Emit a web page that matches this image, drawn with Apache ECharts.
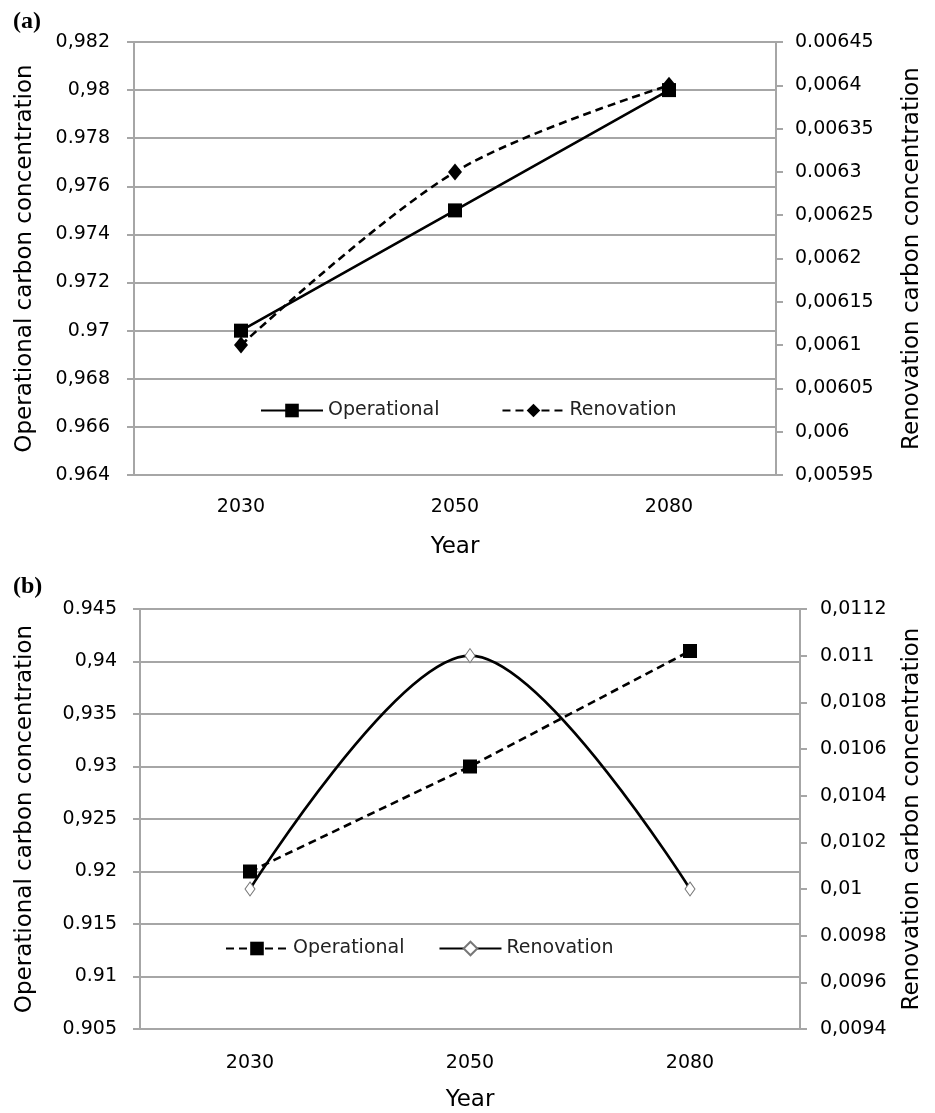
<!DOCTYPE html>
<html>
<head>
<meta charset="utf-8">
<script src="https://cdn.jsdelivr.net/npm/echarts@6/dist/echarts.min.js"></script>
<style>
  html, body { margin: 0; padding: 0; background: #fff; }
  #chart { width: 935px; height: 1113px; }
</style>
</head>
<body>
<div id="chart"></div>
<script>
// Years on the horizontal axis
const categories = ['2030', '2050', '2080'];

// Panel (a) values
const operationalA = [0.970, 0.975, 0.980];
const renovationA = [0.0061, 0.0063, 0.0064];

// Panel (b) values
const operationalB = [0.920, 0.930, 0.941];
const renovationB = [0.0100, 0.0110, 0.0100];

// Tick labels, bottom to top
const leftTicksA = ['0.964', '0.966', '0,968', '0.97', '0.972', '0.974', '0,976', '0.978', '0,98', '0,982'];
const rightTicksA = ['0,00595', '0,006', '0,00605', '0,0061', '0,00615', '0,0062', '0,00625', '0.0063', '0,00635', '0,0064', '0.00645'];
const leftTicksB = ['0.905', '0.91', '0.915', '0.92', '0,925', '0.93', '0,935', '0,94', '0.945'];
const rightTicksB = ['0,0094', '0,0096', '0.0098', '0,01', '0,0102', '0,0104', '0.0106', '0,0108', '0.011', '0,0112'];

const FONT = '"DejaVu Sans", Verdana, sans-serif';
const GRID_GRAY = '#a6a6a6';
const SMOOTH = 0.33;

function tickFormatter(labels, min, step) {
  return function (v) {
    const i = Math.round((v - min) / step);
    return labels[i] !== undefined ? labels[i] : '';
  };
}

function valueAxis(gridIndex, position, min, max, step, labels, name, nameGap, labelMargin, showSplit) {
  return {
    type: 'value',
    gridIndex: gridIndex,
    position: position,
    min: min,
    max: max,
    interval: step,
    axisLine: { show: true, lineStyle: { color: GRID_GRAY, width: 2 } },
    axisTick: { show: true, length: 7, lineStyle: { color: GRID_GRAY, width: 2 } },
    splitLine: { show: showSplit, lineStyle: { color: GRID_GRAY, width: 2 } },
    axisLabel: {
      formatter: tickFormatter(labels, min, step),
      fontFamily: FONT, fontSize: 19, color: '#000', margin: labelMargin
    },
    name: name,
    nameLocation: 'middle',
    nameRotate: 90,
    nameGap: nameGap,
    nameTextStyle: { fontFamily: FONT, fontSize: 23, color: '#000' }
  };
}

function categoryAxis(gridIndex, labelMargin, nameGap) {
  return {
    type: 'category',
    gridIndex: gridIndex,
    data: categories,
    boundaryGap: true,
    axisLine: { lineStyle: { color: GRID_GRAY, width: 2 } },
    axisTick: { length: 7, lineStyle: { color: GRID_GRAY, width: 2 } },
    axisLabel: { fontFamily: FONT, fontSize: 19, color: '#000', margin: labelMargin },
    name: 'Year',
    nameLocation: 'middle',
    nameGap: nameGap,
    nameTextStyle: { fontFamily: FONT, fontSize: 23, color: '#000' }
  };
}

const solidBlack = { color: '#000', width: 2.6, type: 'solid' };
const dashedBlack = { color: '#000', width: 2.6, type: [8, 5] };

const option = {
  animation: false,
  backgroundColor: '#fff',
  graphic: [
    { type: 'text', left: 13, top: 10, style: { text: '(a)', font: 'bold 24px "Liberation Serif", serif', fill: '#000' } },
    { type: 'text', left: 13, top: 575, style: { text: '(b)', font: 'bold 24px "Liberation Serif", serif', fill: '#000' } }
  ],
  grid: [
    { left: 134, right: 935 - 776, top: 42, height: 433 },
    { left: 140, right: 935 - 800, top: 609, height: 420 }
  ],
  legend: [
    {
      left: 260, top: 401, padding: 0, itemGap: 62, itemWidth: 62, itemHeight: 17,
      textStyle: { fontFamily: FONT, fontSize: 19, color: '#222' },
      data: ['Operational a', 'Renovation a'],
      formatter: n => n.split(' ')[0]
    },
    {
      left: 225, top: 939, padding: 0, itemGap: 34, itemWidth: 62, itemHeight: 17,
      textStyle: { fontFamily: FONT, fontSize: 19, color: '#222' },
      data: ['Operational b', 'Renovation b'],
      formatter: n => n.split(' ')[0]
    }
  ],
  xAxis: [
    categoryAxis(0, 23, 61),
    categoryAxis(1, 25, 60)
  ],
  yAxis: [
    valueAxis(0, 'left', 0.964, 0.982, 0.002, leftTicksA, 'Operational carbon concentration', 97, 24, true),
    valueAxis(0, 'right', 0.00595, 0.00645, 0.00005, rightTicksA, 'Renovation carbon concentration', 125, 19, false),
    valueAxis(1, 'left', 0.905, 0.945, 0.005, leftTicksB, 'Operational carbon concentration', 103, 23, true),
    valueAxis(1, 'right', 0.0094, 0.0112, 0.0002, rightTicksB, 'Renovation carbon concentration', 101, 20, false)
  ],
  series: [
    {
      name: 'Operational a', type: 'line', xAxisIndex: 0, yAxisIndex: 0,
      data: operationalA, symbol: 'rect', symbolSize: 14,
      lineStyle: solidBlack, itemStyle: { color: '#000' }
    },
    {
      name: 'Renovation a', type: 'line', xAxisIndex: 0, yAxisIndex: 1,
      data: renovationA, smooth: SMOOTH, symbol: 'diamond', symbolSize: [14, 17],
      lineStyle: dashedBlack, itemStyle: { color: '#000' }
    },
    {
      name: 'Operational b', type: 'line', xAxisIndex: 1, yAxisIndex: 2,
      data: operationalB, symbol: 'rect', symbolSize: 14,
      lineStyle: dashedBlack, itemStyle: { color: '#000' }
    },
    {
      name: 'Renovation b', type: 'line', xAxisIndex: 1, yAxisIndex: 3,
      data: renovationB, smooth: SMOOTH, symbol: 'diamond', symbolSize: [10, 14], showAllSymbol: true,
      lineStyle: solidBlack, itemStyle: { color: '#fff', borderColor: '#777', borderWidth: 1 }
    }
  ]
};

const chart = echarts.init(document.getElementById('chart'), null, { renderer: 'canvas' });
chart.setOption(option);
</script>
</body>
</html>
